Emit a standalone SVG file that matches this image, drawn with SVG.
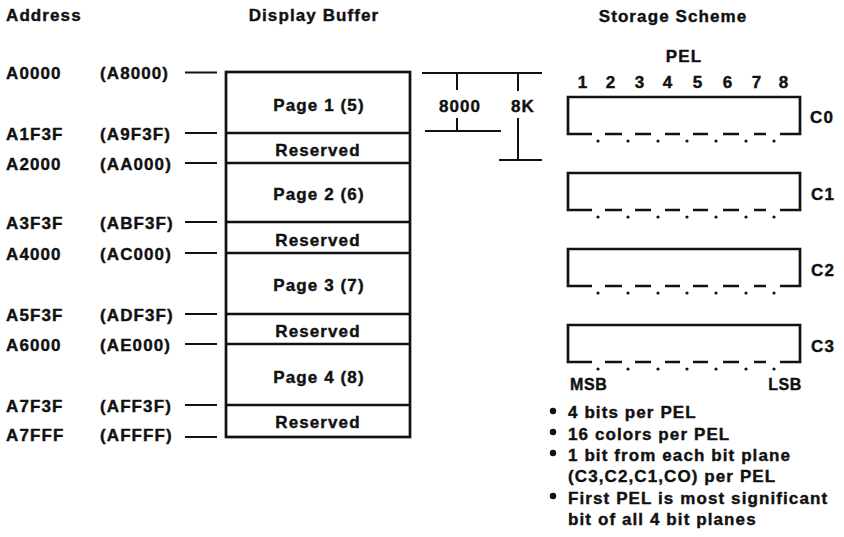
<svg xmlns="http://www.w3.org/2000/svg" width="844" height="537" viewBox="0 0 844 537">
<style>
text{font-family:"Liberation Sans",Arial,sans-serif;font-weight:bold;font-size:17px;fill:#111;stroke:#111;stroke-width:0.4;letter-spacing:1.1px}
.mid{text-anchor:middle}
.end{text-anchor:end}
.sm{font-size:16px;letter-spacing:0.6px}
.ln{stroke:#111;stroke-width:2;fill:none}
.bx{stroke:#111;stroke-width:2.7;fill:none}
.dot{fill:#111}
</style>
<rect width="844" height="537" fill="#fff"/>
<g id="titles">
<text x="6" y="21">Address</text>
<text x="314" y="21" class="mid">Display Buffer</text>
<text x="673" y="22" class="mid">Storage Scheme</text>
</g>
<g id="addresses">
<text x="6" y="79">A0000</text><text x="100" y="79">(A8000)</text>
<text x="6" y="140">A1F3F</text><text x="100" y="140">(A9F3F)</text>
<text x="6" y="170">A2000</text><text x="100" y="170">(AA000)</text>
<text x="6" y="229">A3F3F</text><text x="100" y="229">(ABF3F)</text>
<text x="6" y="260">A4000</text><text x="100" y="260">(AC000)</text>
<text x="6" y="321">A5F3F</text><text x="100" y="321">(ADF3F)</text>
<text x="6" y="351">A6000</text><text x="100" y="351">(AE000)</text>
<text x="6" y="412">A7F3F</text><text x="100" y="412">(AFF3F)</text>
<text x="6" y="441">A7FFF</text><text x="100" y="441">(AFFFF)</text>
</g>
<g id="connectors">
<path class="ln" d="M185 72.5H217M185 133H217M185 163H217M185 222H217M185 253H217M185 314H217M185 344H217M185 405H217M185 437H217"/>
<path class="ln" d="M422 73H542M457 73V90M457 118V131M425 131H501M518 73V91M518 118V160M499 160H542"/>
</g>
<g id="display-buffer">
<rect class="bx" x="226" y="72" width="184" height="365"/>
<path class="bx" d="M226 133H410M226 163H410M226 222H410M226 253H410M226 314H410M226 344H410M226 405H410"/>
<text x="319" y="111" class="mid">Page 1 (5)</text>
<text x="318" y="156" class="mid">Reserved</text>
<text x="319" y="200" class="mid">Page 2 (6)</text>
<text x="318" y="246" class="mid">Reserved</text>
<text x="319" y="291" class="mid">Page 3 (7)</text>
<text x="318" y="337" class="mid">Reserved</text>
<text x="319" y="383" class="mid">Page 4 (8)</text>
<text x="318" y="428" class="mid">Reserved</text>
</g>
<g id="dimensions">
<text x="460" y="112" class="mid">8000</text>
<text x="523" y="112" class="mid">8K</text>
</g>
<g id="pel-header">
<text x="684" y="62" class="mid">PEL</text>
<text x="583" y="88" class="mid">1</text>
<text x="611" y="88" class="mid">2</text>
<text x="640" y="88" class="mid">3</text>
<text x="668" y="88" class="mid">4</text>
<text x="698" y="88" class="mid">5</text>
<text x="728" y="88" class="mid">6</text>
<text x="757" y="88" class="mid">7</text>
<text x="784" y="88" class="mid">8</text>
</g>
<defs>
<g id="plane">
<path class="bx" d="M592 37H568V0H800V37H780"/>
<path class="bx" d="M605 37H622M635 37H651M665 37H680M693 37H708M723 37H739M754 37H766"/>
<circle class="dot" cx="598" cy="44" r="1.6"/><circle class="dot" cx="628" cy="44" r="1.6"/>
<circle class="dot" cx="658" cy="44" r="1.6"/><circle class="dot" cx="687" cy="44" r="1.6"/>
<circle class="dot" cx="716" cy="44" r="1.6"/><circle class="dot" cx="746" cy="44" r="1.6"/>
<circle class="dot" cx="774" cy="44" r="1.6"/>
</g>
</defs>
<g id="plane-c0"><use href="#plane" y="97"/><text x="810" y="123">C0</text></g>
<g id="plane-c1"><use href="#plane" y="173"/><text x="811" y="200">C1</text></g>
<g id="plane-c2"><use href="#plane" y="249"/><text x="811" y="276">C2</text></g>
<g id="plane-c3"><use href="#plane" y="325"/><text x="811" y="352">C3</text></g>
<g id="msb-lsb">
<text x="570" y="390" class="sm">MSB</text>
<text x="802" y="390" class="sm end">LSB</text>
</g>
<g id="notes">
<circle class="dot" cx="553" cy="411" r="3.2"/>
<text x="568" y="418">4 bits per PEL</text>
<circle class="dot" cx="553" cy="432" r="3.2"/>
<text x="568" y="440">16 colors per PEL</text>
<circle class="dot" cx="553" cy="453" r="3.2"/>
<text x="568" y="461">1 bit from each bit plane</text>
<text x="568" y="482">(C3,C2,C1,CO) per PEL</text>
<circle class="dot" cx="553" cy="496" r="3.2"/>
<text x="568" y="504">First PEL is most significant</text>
<text x="568" y="525">bit of all 4 bit planes</text>
</g>
</svg>
